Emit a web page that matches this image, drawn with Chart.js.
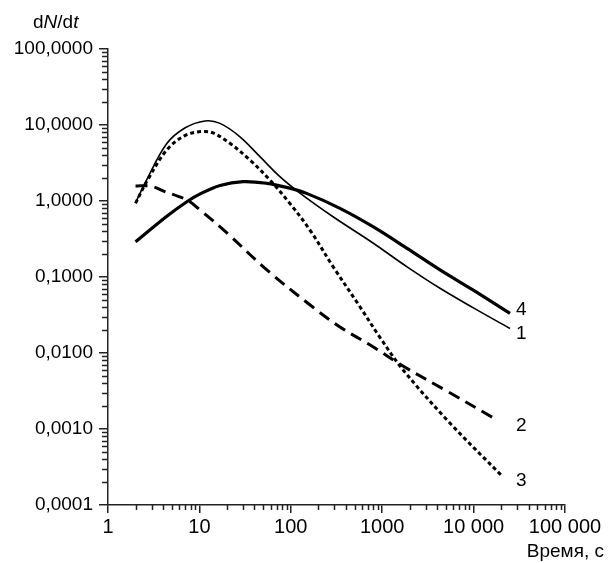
<!DOCTYPE html>
<html lang="ru">
<head>
  <meta charset="UTF-8" />
  <title>dN/dt</title>
  <script src="https://cdn.jsdelivr.net/npm/chart.js"></script>
  <style>
    body { margin: 0; background: #fff; }
    canvas { display: block; }
  </style>
</head>
<body>
  <canvas id="chart" width="608" height="563"></canvas>
  <script>
    // values (time in s, dN/dt)
    const curve1 = [[2, 0.95], [2.65, 1.9], [4.4, 5.7], [7, 9.2], [11.5, 11.3], [16.8, 10.5], [27.8, 7.0], [46, 3.83], [76, 2.09], [126, 1.27], [290, 0.62], [793, 0.28], [1854, 0.137], [4290, 0.071], [9840, 0.0395], [25000, 0.021]];
    const curve2 = [[2, 1.58], [3, 1.56], [4.2, 1.33], [7.3, 1.03], [10.2, 0.76], [20, 0.38], [54.7, 0.124], [175, 0.04], [345, 0.022], [793, 0.0121], [1600, 0.007], [5000, 0.0032], [16500, 0.0014]];
    const curve3 = [[2, 0.93], [2.65, 1.8], [4.4, 4.7], [7, 7.3], [10.6, 8.2], [14.1, 7.85], [21.6, 5.74], [35.7, 3.46], [59, 1.89], [97.6, 0.93], [162, 0.415], [290, 0.137], [571, 0.0406], [940, 0.0162], [1690, 0.006], [5500, 0.0012], [20500, 0.00024]];
    const curve4 = [[2, 0.29], [4.4, 0.63], [7.5, 1.0], [10.2, 1.24], [16.8, 1.6], [30, 1.8], [54.7, 1.71], [90, 1.51], [149, 1.26], [345, 0.8], [793, 0.459], [1854, 0.24], [4290, 0.124], [9840, 0.0675], [25000, 0.0333]];

    const xTickValues = [1, 10, 100, 1000, 10000, 100000];
    const xTickLabels = ['1', '10', '100', '1000', '10 000', '100 000'];
    const yTickValues = [0.0001, 0.001, 0.01, 0.1, 1, 10, 100];
    const yTickLabels = ['0,0001', '0,0010', '0,0100', '0,1000', '1,0000', '10,0000', '100,0000'];

    const FONT = '"Liberation Sans", Arial, sans-serif';
    const toPts = arr => arr.map(p => ({ x: p[0], y: p[1] }));

    // short ticks between the decades
    const minorTicks = {
      id: 'minorTicks',
      afterDraw(chart) {
        const ctx = chart.ctx;
        const xs = chart.scales.x, ys = chart.scales.y;
        ctx.save();
        ctx.strokeStyle = '#222';
        ctx.lineWidth = 1.5;
        ctx.beginPath();
        for (let d = 1; d < 100000; d *= 10) {
          for (let k = 2; k <= 9; k++) {
            const px = Math.round(xs.getPixelForValue(d * k)) + 0.5;
            ctx.moveTo(px, xs.top);
            ctx.lineTo(px, xs.top + 5);
          }
        }
        for (let d = 0.0001; d < 99; d *= 10) {
          for (let k = 2; k <= 9; k++) {
            const py = Math.round(ys.getPixelForValue(d * k)) + 0.5;
            ctx.moveTo(ys.right - 6, py);
            ctx.lineTo(ys.right, py);
          }
        }
        ctx.stroke();
        ctx.restore();
      }
    };

    // axis titles and curve numbers
    const texts = {
      id: 'texts',
      afterDraw(chart) {
        const ctx = chart.ctx;
        ctx.save();
        ctx.fillStyle = '#000';
        ctx.textBaseline = 'alphabetic';
        let x = 33;
        [['d', ''], ['N', 'italic '], ['/d', ''], ['t', 'italic ']].forEach(([s, st]) => {
          ctx.font = st + '19px ' + FONT;
          ctx.fillText(s, x, 28);
          x += ctx.measureText(s).width;
        });
        ctx.font = '19px ' + FONT;
        ctx.textAlign = 'right';
        ctx.fillText('Время, с', 604, 557);

        ctx.textAlign = 'left';
        ctx.textBaseline = 'middle';
        chart.data.datasets.forEach((ds, i) => {
          const meta = chart.getDatasetMeta(i);
          const last = meta.data[meta.data.length - 1];
          const lx = chart.scales.x.getPixelForValue(25000) + 6;
          ctx.fillText(ds.label, lx, last.y + ds.labelDy);
        });
        ctx.restore();
      }
    };

    new Chart(document.getElementById('chart'), {
      type: 'line',
      data: {
        datasets: [
          { label: '1', data: toPts(curve1), borderWidth: 1.6, labelDy: 5 },
          { label: '2', data: toPts(curve2), borderWidth: 3, borderDash: [12, 7], labelDy: 8 },
          { label: '3', data: toPts(curve3), borderWidth: 3, borderDash: [4, 3], labelDy: 5 },
          { label: '4', data: toPts(curve4), borderWidth: 3.2, labelDy: -4 }
        ]
      },
      options: {
        responsive: false,
        animation: false,
        layout: { padding: { top: 49, right: 43, left: 0, bottom: 0 } },
        elements: {
          point: { radius: 0 },
          line: { borderColor: '#000', tension: 0.35, fill: false }
        },
        plugins: { legend: { display: false }, tooltip: { enabled: false } },
        scales: {
          x: {
            type: 'logarithmic',
            min: 1, max: 100000,
            afterBuildTicks: s => { s.ticks = xTickValues.map(v => ({ value: v })); },
            afterFit: s => { s.height = 58; },
            border: { display: true, color: '#222', width: 1.5 },
            grid: { drawOnChartArea: false, drawTicks: true, tickLength: 8, color: '#222', lineWidth: 1.5 },
            ticks: {
              color: '#000', padding: 2, maxRotation: 0, autoSkip: false,
              font: { family: FONT, size: 20 },
              callback: (v, i) => xTickLabels[i]
            }
          },
          y: {
            type: 'logarithmic',
            min: 0.0001, max: 100,
            afterBuildTicks: s => { s.ticks = yTickValues.map(v => ({ value: v })); },
            afterFit: s => { s.width = 108; },
            border: { display: true, color: '#222', width: 1.5 },
            grid: { drawOnChartArea: false, drawTicks: true, tickLength: 9, color: '#222', lineWidth: 1.5 },
            ticks: {
              color: '#000', padding: 6, autoSkip: false,
              font: { family: FONT, size: 19 },
              callback: (v, i) => yTickLabels[i]
            }
          }
        }
      },
      plugins: [minorTicks, texts]
    });
  </script>
</body>
</html>
